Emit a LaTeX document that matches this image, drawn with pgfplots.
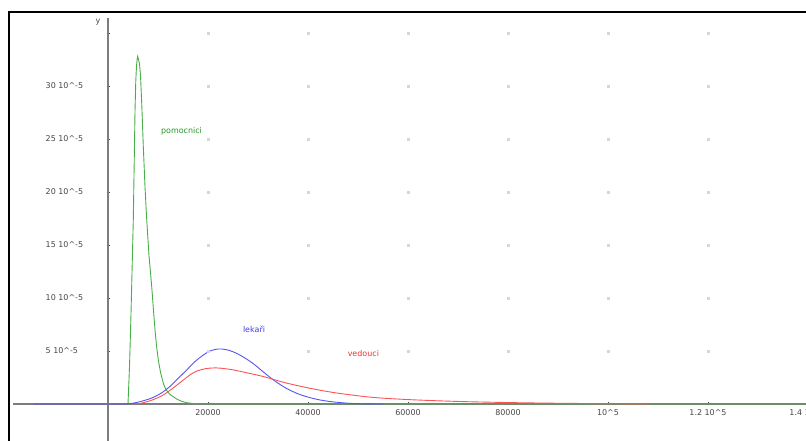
\documentclass[border=0pt]{standalone}
\usepackage{pgfplots}
\pgfplotsset{compat=1.18}
\usepackage{fontspec}
\setmainfont{DejaVu Sans}
\definecolor{gline}{RGB}{70,175,70}
\definecolor{bline}{RGB}{85,85,245}
\definecolor{rline}{RGB}{250,85,85}
\definecolor{gtext}{RGB}{40,150,40}
\definecolor{btext}{RGB}{60,60,235}
\definecolor{rtext}{RGB}{240,50,50}
\definecolor{axcol}{RGB}{125,125,125}
\definecolor{labcol}{RGB}{70,70,70}
\definecolor{dotcol}{RGB}{215,215,215}
\newcommand{\crt}{\textasciicircum}
\begin{document}
\begin{tikzpicture}[x=1bp,y=1bp]
\useasboundingbox (-13,1.16) rectangle (793,442.16);
\begin{axis}[
  at={(0,0)}, anchor=south west,
  scale only axis, width=795bp, height=424.21bp,
  xmin=-19000, xmax=140000, ymin=-3.6, ymax=36.42,
  axis lines=middle,
  every inner x axis line/.append style={-},
  every inner y axis line/.append style={-},
  axis line style={line width=1.1bp, color=axcol},
  xtick={20000,40000,60000,80000,100000,120000,140000},
  xticklabels={20000,40000,60000,80000,{10\crt5},{1.2 10\crt5},{1.4 10\crt5}},
  ytick={5,10,15,20,25,30,35},
  yticklabels={{5 10\crt-5},{10 10\crt-5},{15 10\crt-5},{20 10\crt-5},{25 10\crt-5},{30 10\crt-5},{}},
  major tick length=3bp,
  tick style={line width=0.8bp, color=labcol},
  xticklabel style={font=\fontsize{8}{9}\selectfont, text=labcol, anchor=north, inner sep=0pt, yshift=-4bp},
  yticklabel style={font=\fontsize{8}{9}\selectfont, text=labcol, anchor=west, inner sep=0pt, xshift=-61bp},
  scaled x ticks=false,
]
% grid dots
\addplot[only marks, color=dotcol, mark=square*, mark size=0.9bp, mark options={draw=dotcol, fill=dotcol}] coordinates {
(20000,5)(20000,10)(20000,15)(20000,20)(20000,25)(20000,30)(20000,35)
(40000,5)(40000,10)(40000,15)(40000,20)(40000,25)(40000,30)(40000,35)
(60000,5)(60000,10)(60000,15)(60000,20)(60000,25)(60000,30)(60000,35)
(80000,5)(80000,10)(80000,15)(80000,20)(80000,25)(80000,30)(80000,35)
(100000,5)(100000,10)(100000,15)(100000,20)(100000,25)(100000,30)(100000,35)
(120000,5)(120000,10)(120000,15)(120000,20)(120000,25)(120000,30)(120000,35)
};
% pomocnici
\addplot[gline, line width=0.9bp] coordinates {
(4000,0)(4300,3.5)(4600,8.5)(5060,17.4)(5250,23)(5400,27.6)(5550,30.4)(5700,31.9)(5850,32.6)(5940,32.8)
(6100,32.5)(6300,32.1)(6500,31.0)(6750,28.3)(7060,24.3)(7400,20.5)(7740,17.4)(8200,14.0)(8740,11.1)
(9100,8.8)(9400,7.0)(9700,5.5)(10060,4.15)(10500,3.0)(11060,1.95)(11500,1.45)(12000,1.1)(12500,0.86)
(13060,0.69)(13800,0.45)(14500,0.3)(15100,0.2)(15740,0.12)(17000,0.05)(18500,0.01)(20000,0)(140000,0)
};
% lekari
\addplot[bline, line width=0.9bp, smooth, tension=0.5] coordinates {
(-15000,0)(0,0)(3000,0)(4000,0.02)(5000,0.08)(6400,0.22)(8400,0.5)(10000,0.85)(11060,1.16)(12500,1.7)
(14000,2.4)(15740,3.21)(17400,4.0)(19060,4.62)(20500,5.02)(22060,5.19)(23500,5.14)(25060,4.92)
(27000,4.45)(29060,3.8)(31000,3.05)(33060,2.28)(35400,1.55)(37740,1.01)(40000,0.65)(42400,0.38)
(45000,0.2)(48400,0.06)(52000,0.01)(55000,0)
};
% vedouci
\addplot[rline, line width=0.9bp, smooth, tension=0.5] coordinates {
(5400,0)(6400,0.05)(8400,0.3)(10000,0.6)(11060,0.85)(13000,1.5)(15060,2.26)(16400,2.75)(17740,3.1)
(19500,3.33)(21000,3.4)(22500,3.38)(25000,3.22)(28000,2.92)(31000,2.6)(33060,2.32)(35500,2.0)
(38400,1.68)(42400,1.3)(46000,1.02)(51740,0.68)(56000,0.52)(61740,0.38)(70000,0.24)(78400,0.15)
(85000,0.1)(92000,0.06)(100000,0.03)(108400,0)
};
\node[text=gtext, font=\fontsize{8}{9}\selectfont] at (axis cs:14700,25.75) {pomocnici};
\node[text=btext, font=\fontsize{8}{9}\selectfont] at (axis cs:29200,7.05) {lekaři};
\node[text=rtext, font=\fontsize{8}{9}\selectfont] at (axis cs:51070,4.72) {vedouci};
\node[text=labcol, font=\fontsize{8}{9}\selectfont] at (axis cs:-2000,36.0) {y};
\end{axis}
\draw[line width=2bp, black] (-4.3,-20) -- (-4.3,429.66) -- (830,429.66);
\end{tikzpicture}
\end{document}
